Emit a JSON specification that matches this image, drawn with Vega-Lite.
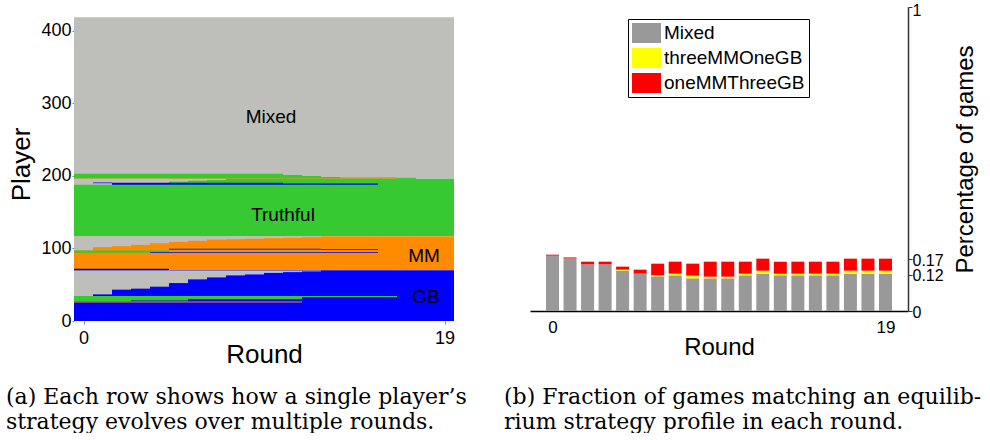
{
  "$schema": "https://vega.github.io/schema/vega-lite/v6.json",
  "padding": {"left": 5, "top": 2, "right": 0, "bottom": 0},
  "bounds": "flush",
  "spacing": 76,
  "config": {
    "view": {"stroke": null},
    "font": "Liberation Sans",
    "axis": {"labelFont": "Liberation Sans", "titleFont": "Liberation Sans", "labelColor": "#000", "titleColor": "#000", "titleFontWeight": "normal", "grid": false}
  },
  "resolve": {"scale": {"color": "independent", "x": "independent", "y": "independent"}, "legend": {"color": "independent"}},
  "hconcat": [
    {
      "width": 380,
      "height": 314,
      "title": {
        "text": ["(a) Each row shows how a single player’s", "strategy evolves over multiple rounds."],
        "orient": "bottom", "anchor": "start", "font": "DejaVu Serif", "fontSize": 22, "fontWeight": "normal",
        "color": "#000", "lineHeight": 25, "offset": 20, "dx": -3
      },
      "layer": [
        {
          "data": {"values": [
            {"s": 0, "e": 20, "lo": 196, "hi": 419, "strategy": "Mixed"},
            {"s": 0, "e": 20, "lo": 117, "hi": 196, "strategy": "Truthful"},
            {"s": 0, "e": 11, "lo": 196, "hi": 203, "strategy": "Truthful"},
            {"s": 11, "e": 12, "lo": 196, "hi": 201.4, "strategy": "Truthful"},
            {"s": 12, "e": 13, "lo": 196, "hi": 200, "strategy": "Truthful"},
            {"s": 13, "e": 14, "lo": 196, "hi": 198.6, "strategy": "Truthful"},
            {"s": 14, "e": 17, "lo": 196, "hi": 198, "strategy": "Truthful"},
            {"s": 17, "e": 18, "lo": 196, "hi": 197.5, "strategy": "Truthful"},
            {"s": 0, "e": 17, "lo": 196, "hi": 197, "strategy": "MM"},
            {"s": 0, "e": 2, "lo": 188, "hi": 196, "strategy": "Mixed"},
            {"s": 2, "e": 5, "lo": 190.3, "hi": 196, "strategy": "Mixed"},
            {"s": 5, "e": 6, "lo": 192.2, "hi": 196, "strategy": "Mixed"},
            {"s": 6, "e": 7, "lo": 193.5, "hi": 196, "strategy": "Mixed"},
            {"s": 7, "e": 8, "lo": 194.4, "hi": 196, "strategy": "Mixed"},
            {"s": 1, "e": 2, "lo": 190, "hi": 191, "strategy": "GB"},
            {"s": 2, "e": 11, "lo": 188, "hi": 190.5, "strategy": "GB"},
            {"s": 11, "e": 16, "lo": 188, "hi": 189.5, "strategy": "GB"},
            {"s": 0, "e": 20, "lo": 70, "hi": 117, "strategy": "MM"},
            {"s": 0, "e": 1, "lo": 97.2, "hi": 117, "strategy": "Mixed"},
            {"s": 1, "e": 2, "lo": 101.8, "hi": 117, "strategy": "Mixed"},
            {"s": 2, "e": 3, "lo": 103.2, "hi": 117, "strategy": "Mixed"},
            {"s": 3, "e": 4, "lo": 105.0, "hi": 117, "strategy": "Mixed"},
            {"s": 4, "e": 5, "lo": 107.3, "hi": 117, "strategy": "Mixed"},
            {"s": 5, "e": 6, "lo": 109.2, "hi": 117, "strategy": "Mixed"},
            {"s": 6, "e": 7, "lo": 110.6, "hi": 117, "strategy": "Mixed"},
            {"s": 7, "e": 8, "lo": 112.4, "hi": 117, "strategy": "Mixed"},
            {"s": 8, "e": 9, "lo": 112.8, "hi": 117, "strategy": "Mixed"},
            {"s": 9, "e": 10, "lo": 113.3, "hi": 117, "strategy": "Mixed"},
            {"s": 10, "e": 11, "lo": 114.2, "hi": 117, "strategy": "Mixed"},
            {"s": 11, "e": 12, "lo": 114.7, "hi": 117, "strategy": "Mixed"},
            {"s": 12, "e": 13, "lo": 115.6, "hi": 117, "strategy": "Mixed"},
            {"s": 0, "e": 5, "lo": 94, "hi": 97.2, "strategy": "Truthful"},
            {"s": 4, "e": 16, "lo": 94, "hi": 95, "strategy": "GB"},
            {"s": 5, "e": 13, "lo": 97.5, "hi": 98.5, "strategy": "Truthful"},
            {"s": 5, "e": 13, "lo": 98.5, "hi": 99.5, "strategy": "GB"},
            {"s": 13, "e": 16, "lo": 98, "hi": 99, "strategy": "GB"},
            {"s": 0, "e": 5, "lo": 69.7, "hi": 72, "strategy": "GB"},
            {"s": 5, "e": 13, "lo": 69.7, "hi": 70.5, "strategy": "GB"},
            {"s": 0, "e": 20, "lo": 0, "hi": 70, "strategy": "GB"},
            {"s": 0, "e": 1, "lo": 34.4, "hi": 69.7, "strategy": "Mixed"},
            {"s": 1, "e": 2, "lo": 36.7, "hi": 69.7, "strategy": "Mixed"},
            {"s": 2, "e": 3, "lo": 43.2, "hi": 69.7, "strategy": "Mixed"},
            {"s": 3, "e": 4, "lo": 44.6, "hi": 69.7, "strategy": "Mixed"},
            {"s": 4, "e": 5, "lo": 47.3, "hi": 69.7, "strategy": "Mixed"},
            {"s": 5, "e": 6, "lo": 52.3, "hi": 69.7, "strategy": "Mixed"},
            {"s": 6, "e": 7, "lo": 57.4, "hi": 69.7, "strategy": "Mixed"},
            {"s": 7, "e": 8, "lo": 60.1, "hi": 69.7, "strategy": "Mixed"},
            {"s": 8, "e": 9, "lo": 62.9, "hi": 69.7, "strategy": "Mixed"},
            {"s": 9, "e": 10, "lo": 64.2, "hi": 69.7, "strategy": "Mixed"},
            {"s": 10, "e": 11, "lo": 66.3, "hi": 69.7, "strategy": "Mixed"},
            {"s": 11, "e": 12, "lo": 67.4, "hi": 69.7, "strategy": "Mixed"},
            {"s": 12, "e": 13, "lo": 68.4, "hi": 69.7, "strategy": "Mixed"},
            {"s": 0, "e": 6, "lo": 27, "hi": 34.4, "strategy": "Truthful"},
            {"s": 6, "e": 12, "lo": 30, "hi": 34.4, "strategy": "Truthful"},
            {"s": 12, "e": 17, "lo": 32.8, "hi": 34.4, "strategy": "Truthful"},
            {"s": 3, "e": 6, "lo": 27, "hi": 28.2, "strategy": "GB"},
            {"s": 0, "e": 12, "lo": 25.5, "hi": 27, "strategy": "MM"}
          ]},
          "mark": {"type": "rect"},
          "encoding": {
            "x": {"field": "s", "type": "quantitative",
              "scale": {"domain": [0, 20], "nice": false, "zero": false},
              "axis": {"values": [0.5, 19.5], "labelExpr": "toString(floor(datum.value))", "domain": false, "tickSize": 3, "tickColor": "#888", "labelFontSize": 18, "labelPadding": 5, "title": "Round", "titleFontSize": 26, "titlePadding": -6}},
            "x2": {"field": "e"},
            "y": {"field": "lo", "type": "quantitative",
              "scale": {"domain": [0, 433], "nice": false},
              "axis": {"values": [0, 100, 200, 300, 400], "domain": false, "tickSize": 2, "tickColor": "#888", "labelFontSize": 18, "labelPadding": 1, "title": "Player", "titleFontSize": 26, "titlePadding": 6}},
            "y2": {"field": "hi"},
            "color": {"field": "strategy", "type": "nominal",
              "scale": {"domain": ["Mixed", "Truthful", "MM", "GB"], "range": ["#bebfbb", "#36c932", "#ff8c00", "#0000ff"]},
              "legend": null}
          }
        },
        {
          "data": {"values": [
            {"label": "Mixed", "round": 10.37, "player": 281},
            {"label": "Truthful", "round": 11.0, "player": 146.4},
            {"label": "MM", "round": 18.42, "player": 89.2},
            {"label": "GB", "round": 18.53, "player": 32.7}
          ]},
          "mark": {"type": "text", "fontSize": 19, "font": "Liberation Sans", "color": "#000", "baseline": "middle", "align": "center"},
          "encoding": {
            "x": {"field": "round", "type": "quantitative"},
            "y": {"field": "player", "type": "quantitative"},
            "text": {"field": "label"}
          }
        }
      ]
    },
    {
      "width": 378,
      "height": 304,
      "title": {
        "text": ["(b) Fraction of games matching an equilib-", "rium strategy profile in each round."],
        "orient": "bottom", "anchor": "start", "font": "DejaVu Serif", "fontSize": 22, "fontWeight": "normal",
        "color": "#000", "lineHeight": 25, "offset": 28, "dx": -26
      },
      "data": {"values": [
        {"round": 0, "profile": "Mixed", "share": 0.182, "k": 1},
        {"round": 0, "profile": "oneMMThreeGB", "share": 0.0033, "k": 3},
        {"round": 1, "profile": "Mixed", "share": 0.173, "k": 1},
        {"round": 1, "profile": "oneMMThreeGB", "share": 0.0033, "k": 3},
        {"round": 2, "profile": "Mixed", "share": 0.1535, "k": 1},
        {"round": 2, "profile": "oneMMThreeGB", "share": 0.0088, "k": 3},
        {"round": 3, "profile": "Mixed", "share": 0.1535, "k": 1},
        {"round": 3, "profile": "oneMMThreeGB", "share": 0.0088, "k": 3},
        {"round": 4, "profile": "Mixed", "share": 0.1327, "k": 1},
        {"round": 4, "profile": "threeMMOneGB", "share": 0.0033, "k": 2},
        {"round": 4, "profile": "oneMMThreeGB", "share": 0.0099, "k": 3},
        {"round": 5, "profile": "Mixed", "share": 0.1228, "k": 1},
        {"round": 5, "profile": "oneMMThreeGB", "share": 0.0132, "k": 3},
        {"round": 6, "profile": "Mixed", "share": 0.114, "k": 1},
        {"round": 6, "profile": "threeMMOneGB", "share": 0.0033, "k": 2},
        {"round": 6, "profile": "oneMMThreeGB", "share": 0.0384, "k": 3},
        {"round": 7, "profile": "Mixed", "share": 0.1173, "k": 1},
        {"round": 7, "profile": "threeMMOneGB", "share": 0.0055, "k": 2},
        {"round": 7, "profile": "oneMMThreeGB", "share": 0.0395, "k": 3},
        {"round": 8, "profile": "Mixed", "share": 0.1075, "k": 1},
        {"round": 8, "profile": "threeMMOneGB", "share": 0.0088, "k": 2},
        {"round": 8, "profile": "oneMMThreeGB", "share": 0.0395, "k": 3},
        {"round": 9, "profile": "Mixed", "share": 0.1075, "k": 1},
        {"round": 9, "profile": "threeMMOneGB", "share": 0.0055, "k": 2},
        {"round": 9, "profile": "oneMMThreeGB", "share": 0.0493, "k": 3},
        {"round": 10, "profile": "Mixed", "share": 0.1075, "k": 1},
        {"round": 10, "profile": "threeMMOneGB", "share": 0.0055, "k": 2},
        {"round": 10, "profile": "oneMMThreeGB", "share": 0.0493, "k": 3},
        {"round": 11, "profile": "Mixed", "share": 0.1173, "k": 1},
        {"round": 11, "profile": "threeMMOneGB", "share": 0.0055, "k": 2},
        {"round": 11, "profile": "oneMMThreeGB", "share": 0.0395, "k": 3},
        {"round": 12, "profile": "Mixed", "share": 0.1228, "k": 1},
        {"round": 12, "profile": "threeMMOneGB", "share": 0.0099, "k": 2},
        {"round": 12, "profile": "oneMMThreeGB", "share": 0.0395, "k": 3},
        {"round": 13, "profile": "Mixed", "share": 0.1173, "k": 1},
        {"round": 13, "profile": "threeMMOneGB", "share": 0.0055, "k": 2},
        {"round": 13, "profile": "oneMMThreeGB", "share": 0.0395, "k": 3},
        {"round": 14, "profile": "Mixed", "share": 0.1173, "k": 1},
        {"round": 14, "profile": "threeMMOneGB", "share": 0.0055, "k": 2},
        {"round": 14, "profile": "oneMMThreeGB", "share": 0.0395, "k": 3},
        {"round": 15, "profile": "Mixed", "share": 0.1173, "k": 1},
        {"round": 15, "profile": "threeMMOneGB", "share": 0.0055, "k": 2},
        {"round": 15, "profile": "oneMMThreeGB", "share": 0.0395, "k": 3},
        {"round": 16, "profile": "Mixed", "share": 0.1173, "k": 1},
        {"round": 16, "profile": "threeMMOneGB", "share": 0.0055, "k": 2},
        {"round": 16, "profile": "oneMMThreeGB", "share": 0.0395, "k": 3},
        {"round": 17, "profile": "Mixed", "share": 0.1228, "k": 1},
        {"round": 17, "profile": "threeMMOneGB", "share": 0.0099, "k": 2},
        {"round": 17, "profile": "oneMMThreeGB", "share": 0.0395, "k": 3},
        {"round": 18, "profile": "Mixed", "share": 0.1228, "k": 1},
        {"round": 18, "profile": "threeMMOneGB", "share": 0.0099, "k": 2},
        {"round": 18, "profile": "oneMMThreeGB", "share": 0.0395, "k": 3},
        {"round": 19, "profile": "Mixed", "share": 0.1228, "k": 1},
        {"round": 19, "profile": "threeMMOneGB", "share": 0.0099, "k": 2},
        {"round": 19, "profile": "oneMMThreeGB", "share": 0.0395, "k": 3}
      ]},
      "mark": {"type": "bar", "size": 13},
      "encoding": {
        "x": {"field": "round", "type": "quantitative",
          "scale": {"domain": [-1, 20], "nice": false, "zero": false},
          "axis": {"values": [0, 19], "ticks": false, "labelFontSize": 17, "labelPadding": 8, "domainColor": "#000", "domainWidth": 1.5, "title": "Round", "titleFontSize": 24, "titlePadding": 0}},
        "y": {"field": "share", "type": "quantitative", "stack": "zero",
          "scale": {"domain": [0, 1], "nice": false},
          "axis": {"orient": "right", "values": [0, 0.12, 0.17, 1], "labelExpr": "toString(datum.value)", "labelFontSize": 16, "labelOverlap": false,
            "labelOffset": {"condition": {"test": "datum.value == 1", "value": 3}, "value": 1},
            "tickSize": 4, "tickColor": "#333", "labelPadding": 0, "domainColor": "#333", "domainWidth": 1.5,
            "title": "Percentage of games", "titleFontSize": 24, "titleAngle": -90, "titleBaseline": "top", "titlePadding": 10}},
        "color": {"field": "profile", "type": "nominal",
          "scale": {"domain": ["Mixed", "threeMMOneGB", "oneMMThreeGB"], "range": ["#999999", "#ffff00", "#ff0000"]},
          "legend": {"title": null, "orient": "none", "legendX": 98, "legendY": 12, "direction": "vertical",
            "symbolType": "M-1,-1H1.9V1H-1Z", "symbolSize": 400, "symbolStrokeWidth": 0, "symbolOpacity": 1,
            "labelFont": "Liberation Sans", "labelFontSize": 19, "labelColor": "#000", "labelOffset": 12,
            "rowPadding": 5, "padding": 4, "strokeColor": "#000", "fillColor": "#fff"}},
        "order": {"field": "k", "type": "quantitative"}
      }
    }
  ]
}
